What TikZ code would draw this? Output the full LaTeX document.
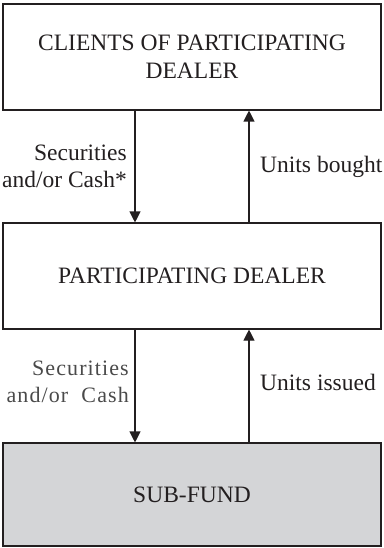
\documentclass[tikz,border=0pt]{standalone}
\usepackage{fontspec}
\setmainfont{Liberation Serif}
\newfontfamily\widefont[LetterSpace=5]{Liberation Serif}
\usetikzlibrary{arrows.meta}
\definecolor{boxgrey}{HTML}{D4D5D7}
\definecolor{ink}{HTML}{231F20}
\definecolor{softink}{HTML}{4A4A4A}
\tikzset{
  x=1pt,y=1pt,
  box/.style={draw=ink,line width=1.1pt,minimum width=378pt,minimum height=106pt,inner sep=0pt,align=center,
    font=\fontsize{23.5}{28}\selectfont,text=ink},
  lbl/.style={inner sep=0pt,font=\fontsize{23.5}{27}\selectfont,text=ink},
  arr/.style={draw=ink,line width=1.1pt,-{Triangle[width=11pt,length=11pt]}}
}
\begin{document}
\begin{tikzpicture}
\useasboundingbox (0,0) rectangle (383,-548);
\node[box] (c) at (192,-57) {CLIENTS OF PARTICIPATING\\DEALER};
\node[box] (p) at (192,-276) {PARTICIPATING DEALER};
\node[box,fill=boxgrey,minimum height=103pt] (s) at (192,-494.5) {SUB-FUND};
\draw[arr] ([xshift=-57pt]c.south) -- ([xshift=-57pt]p.north);
\draw[arr] ([xshift=57pt]p.north) -- ([xshift=57pt]c.south);
\draw[arr] ([xshift=-57pt]p.south) -- ([xshift=-57pt]s.north);
\draw[arr] ([xshift=57pt]s.north) -- ([xshift=57pt]p.south);
\node[lbl,align=right,anchor=east] (l1) at (127,-166) {Securities\\and/or Cash*};
\node[lbl,anchor=west] (r1) at (260,-167) {Units bought};
\node[lbl,align=right,anchor=east,font=\widefont\fontsize{22}{27}\selectfont,text=softink] (l2) at (129,-382) {Securities\\and/or\ \ Cash};
\node[lbl,anchor=west] (r2) at (260,-382) {Units issued};
\end{tikzpicture}
\end{document}
